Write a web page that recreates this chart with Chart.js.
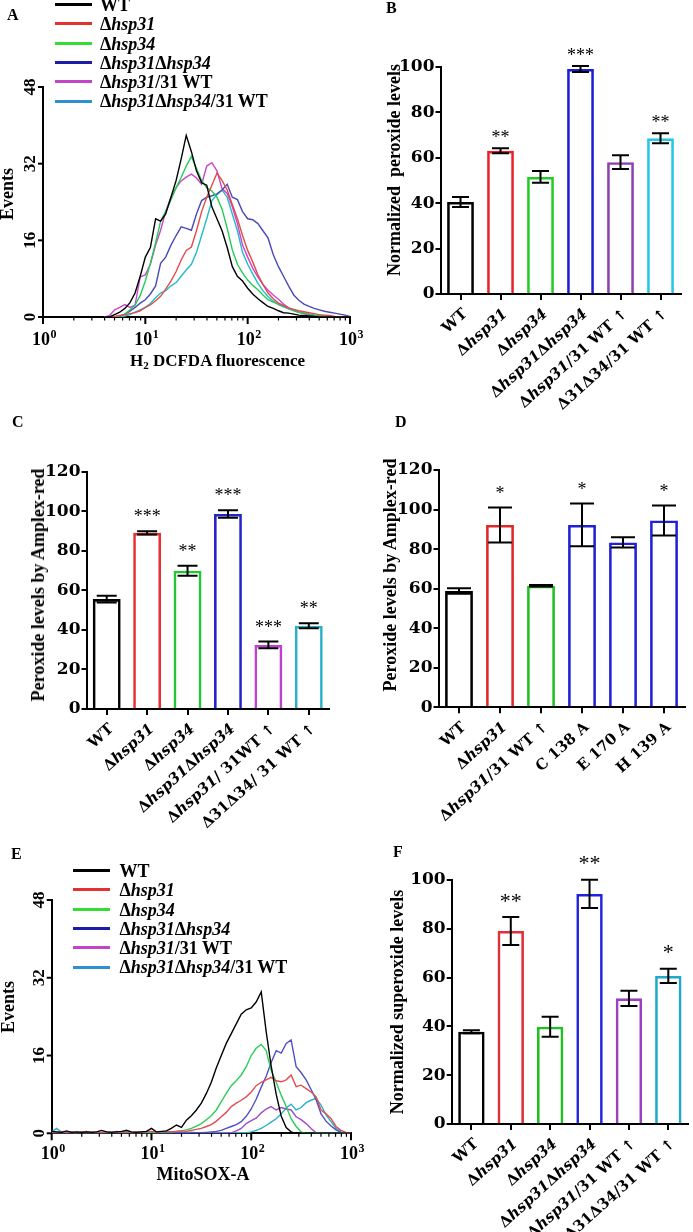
<!DOCTYPE html>
<html><head><meta charset="utf-8">
<script src="https://cdn.jsdelivr.net/npm/chart.js@4.4.1/dist/chart.umd.min.js"></script>
<style>
html,body{margin:0;padding:0;background:#fff;}
#page{position:relative;width:693px;height:1232px;overflow:hidden;background:#fff;}
canvas{position:absolute;left:0;top:0;}
.t{position:absolute;font-family:'Liberation Serif','Times New Roman',serif;font-weight:bold;color:#000;white-space:pre;line-height:1;}
.lg{position:absolute;height:3px;}
</style></head><body><div id="page">
<canvas id="cA" width="693" height="1232"></canvas>
<canvas id="cB" width="693" height="1232"></canvas>
<canvas id="cC" width="693" height="1232"></canvas>
<canvas id="cD" width="693" height="1232"></canvas>
<canvas id="cE" width="693" height="1232"></canvas>
<canvas id="cF" width="693" height="1232"></canvas>
</div>
<script>
// ---------------- DATA ----------------
const histLabels = ['WT','Δhsp31','Δhsp34','Δhsp31Δhsp34','Δhsp31/31 WT','Δhsp31Δhsp34/31 WT'];
const histYTicks = [0,16,32,48];
const logTicks = [1,10,100,1000];

// Panel A: H2DCFDA fluorescence channels and event counts
const aFluor = [3.98,4.47,5.01,5.62,6.31,7.08,7.94,8.91,10,11.2,12.6,14.1,15.8,17.8,20.0,22.4,25.1,28.2,31.6,35.5,39.8,44.7,50.1,56.2,63.1,70.8,79.4,89.1,100,112,126,141,158,178,200,224,251,282,316,355,398,447,501,562,631,708,794,891,1000];
const aWT     = [0,0,0.5,1.0,1.8,3.0,5.0,8.5,12.5,14.5,20.5,20.0,21.5,25.0,28.5,33.0,37.9,34.5,30.5,28.0,27.5,23.0,20.5,18.0,14.5,10.5,8.5,7.5,6.0,4.8,3.8,3.0,2.2,1.8,1.3,0.9,0.8,0.6,0.4,0.3,0.2,0.1,0,0,0,0,0,0,0];
const aHsp31  = [0,0,0.1,0.3,0.5,0.7,0.9,1.3,2.0,2.5,3.4,4.3,5.8,7.5,9.5,11.9,13.9,14.6,18.0,22.0,25.0,27.5,30.0,28.5,26.5,23.5,20.5,17.0,13.9,11.5,8.8,6.8,5.0,3.8,2.9,2.4,1.9,1.6,1.3,1.1,0.9,0.7,0.5,0.4,0.3,0.1,0,0,0];
const aHsp34  = [0,0,0,0.2,0.6,1.5,2.5,4.5,7.5,11.2,15.5,20.0,22.0,24.5,27.0,29.1,31.5,33.5,31.0,28.5,27.0,26.3,25.0,22.5,18.5,14.0,11.0,9.2,7.7,6.6,5.7,4.6,3.6,3.1,2.7,2.3,1.8,1.4,1.0,0.8,0.6,0.4,0.3,0.2,0.1,0,0,0,0];
const aDouble = [0,0,0,0.2,0.6,1.2,2.0,2.9,3.6,4.8,6.5,11.2,12.5,15.0,17.0,18.8,18.5,18.1,21.5,24.3,25.0,25.3,25.7,26.5,27.7,25.0,24.5,22.0,20.5,20.3,19.5,18.0,16.5,13.0,10.5,8.5,6.5,4.6,3.5,2.7,2.2,1.8,1.5,1.2,1.0,0.8,0.6,0.4,0.1];
const aRes31  = [0,0.3,1.5,2.0,2.6,2.0,2.5,8.4,8.8,11.0,15.0,18.1,22.0,25.0,27.0,28.4,29.2,29.8,29.0,27.7,31.5,32.2,30.5,26.8,25.8,23.0,19.5,15.0,12.5,10.2,8.3,6.8,5.6,4.6,3.7,2.7,1.9,1.4,1.0,0.7,0.5,0.3,0.1,0,0,0,0,0,0];
const aResDbl = [0,0,0,0,0.2,0.5,1.0,1.5,2.0,2.8,4.0,5.0,5.5,6.5,7.2,8.5,9.8,11.0,13.5,17.0,20.5,24.3,25.5,26.5,25.0,21.5,18.0,13.5,11.0,9.0,7.0,5.5,4.3,3.3,2.6,2.1,1.7,1.3,1.0,0.8,0.5,0.3,0.2,0,0,0,0,0,0];

// Panel E: MitoSOX fluorescence channels and event counts
const eFluor = [1,1.12,1.26,1.41,1.58,1.78,2.00,2.24,2.51,2.82,3.16,3.55,3.98,4.47,5.01,5.62,6.31,7.08,7.94,8.91,10,11.2,12.6,14.1,15.8,17.8,20.0,22.4,25.1,28.2,31.6,35.5,39.8,44.7,50.1,56.2,63.1,70.8,79.4,89.1,100,112,126,141,158,178,200,224,251,282,316,355,398,447,501,562,631,708,794,891,1000];
const eWT     = [0.4,0.3,0.2,0.5,0.2,0.3,0.2,0.3,0.2,0.3,0.6,0.3,0.2,0.3,0.4,0.6,0.3,0.2,0.3,0.4,1.0,0.3,0.4,0.5,1.0,1.7,1.2,2.7,3.6,4.8,6.2,8.2,10.5,13.5,16.0,18.5,20.5,22.5,24.5,25.4,25.8,27.0,29.1,21.0,14.0,8.0,3.5,1.2,0.3,0,0,0,0,0,0,0,0,0,0,0,0];
const eHsp31  = [0.3,0.2,0.4,0.2,0.3,0.2,0.3,0.4,0.2,0.3,0.2,0.3,0.2,0.4,0.2,0.3,0.2,0.3,0.2,0.3,0.4,0.2,0.3,0.4,0.3,0.4,0.5,0.4,0.6,0.8,1.0,1.4,1.8,2.5,3.4,4.3,5.5,6.2,6.8,7.5,8.5,9.8,10.5,11.0,11.5,10.8,10.6,11.0,12.0,9.6,9.9,9.2,8.5,7.5,4.8,4.0,3.0,1.4,0.6,0.2,0];
const eHsp34  = [0.1,0.2,0.1,0.2,0.1,0.1,0.2,0.1,0.2,0.1,0.1,0.2,0.1,0.3,0.1,0.2,0.1,0.2,0.3,0.1,0.2,0.1,0.2,0.3,0.3,0.4,0.5,0.7,1.0,1.5,2.0,2.8,3.6,4.8,6.5,8.2,9.8,10.8,12.0,13.7,16.0,17.5,18.3,17.0,13.0,10.5,7.8,5.5,3.0,1.4,0.3,0,0,0,0,0,0,0,0,0,0];
const eDouble = [0.1,0,0.1,0,0.1,0,0.1,0,0.1,0,0.1,0,0.2,0,0.1,0,0.1,0,0.1,0,0.1,0,0.1,0,0.1,0,0.1,0,0.1,0.1,0.1,0.2,0.3,0.4,0.6,1.0,1.4,1.8,2.4,3.5,5.0,7.0,9.5,11.7,14.5,17.0,16.5,18.5,19.2,13.7,12.5,11.0,9.0,6.9,4.0,2.5,1.5,0.7,0.2,0,0];
const eRes31  = [0,0,0,0,0,0,0,0,0,0,0,0,0,0,0,0,0,0,0,0,0,0,0,0,0,0,0,0,0,0,0,0,0,0,0,0,0.1,0.5,1.0,2.0,2.6,3.1,4.2,5.0,5.5,4.8,5.3,5.0,4.8,3.4,2.8,2.0,1.0,0.1,0,0,0,0,0,0,0];
const eResDbl = [0.3,1.0,0.2,0.1,0.2,0.1,0.2,0.1,0.2,0.1,0.1,0.2,0.1,0.2,0.3,0.7,0.2,0.1,0.2,0.1,0.2,0.1,0.2,0.1,0.1,0.2,0.1,0.1,0.2,0.1,0.1,0.1,0.1,0.1,0.1,0.1,0.1,0.1,0.1,0.1,0.3,0.6,1.0,1.6,2.3,3.0,4.0,5.2,6.0,4.8,5.3,6.3,6.8,7.2,5.8,3.8,2.4,1.0,0.3,0,0];

// Panel B: normalized peroxide levels (H2DCFDA)
const bCats   = ['WT','Δhsp31','Δhsp34','Δhsp31Δhsp34','Δhsp31/31 WT ↑','Δ31Δ34/31 WT ↑'];
const bValues = [40.5,63.0,51.5,99.0,58.0,68.5];
const bErrors = [2.2,1.1,2.6,1.3,3.0,2.2];
const bStars  = ['','**','','***','','**'];

// Panel C: peroxide levels by Amplex-red
const cCats   = ['WT','Δhsp31','Δhsp34','Δhsp31Δhsp34','Δhsp31/ 31WT ↑','Δ31Δ34/ 31 WT ↑'];
const cValues = [55.6,89.1,69.9,98.6,32.4,42.1];
const cErrors = [1.7,0.8,2.5,1.9,1.7,1.3];
const cStars  = ['','***','**','***','***','**'];

// Panel D: peroxide levels by Amplex-red, point mutants
const dCats   = ['WT','Δhsp31','Δhsp31/31 WT ↑','C 138 A','E 170 A','H 139 A'];
const dValues = [58.8,92.2,61.5,92.2,83.4,94.5];
const dErrors = [1.4,8.8,0.4,10.8,2.6,7.6];
const dStars  = ['','*','','*','','*'];

// Panel F: normalized superoxide levels
const fCats   = ['WT','Δhsp31','Δhsp34','Δhsp31Δhsp34','Δhsp31/31 WT ↑','Δ31Δ34/31 WT ↑'];
const fValues = [37.8,79.1,39.9,94.3,51.5,60.7];
const fErrors = [0.6,5.7,4.1,5.8,3.1,2.9];
const fStars  = ['','**','','**','','*'];

// ---------------- STYLE ----------------
const legendColors = ['#000000','#e53030','#33dd33','#1c1ca8','#c444c8','#2f90d0'];
const aColors = ['#000000','#e34a4a','#22cc55','#4a4ab8','#cc44cc','#22bcc8'];
const eColors = ['#000000','#e04e4e','#2ccc5a','#5050c4','#a04cc8','#2cb0c8'];
const bColors = ['#000000','#e8222a','#22cc22','#1c1cd8','#8e3fb0','#22c8e6'];
const cColors = ['#000000','#e83030','#22c833','#2424cc','#c040d0','#2ab0c8'];
const dColors = ['#000000','#e02828','#20c020','#2020d8','#2020d8','#2020d8'];
const fColors = ['#000000','#e03038','#20c020','#2020e0','#9a40c0','#20a8c8'];

const W = 693, H = 1232;
const ITAL = /(hsp\d+)/;
function segs(label){ return label.split(ITAL).filter(s => s.length).map(s => ({t:s, it:ITAL.test(s)})); }
function richHTML(label){ return label.replace(/(hsp\d+)/g, '<i>$1</i>'); }

function line(ctx,x1,y1,x2,y2){ ctx.beginPath(); ctx.moveTo(x1,y1); ctx.lineTo(x2,y2); ctx.stroke(); }

// --------------- HISTOGRAMS ---------------
function histChart(id, area, xs, series, colors) {
  const deco = {
    id: 'histDeco',
    afterDraw(chart) {
      const ctx = chart.ctx, sx = chart.scales.x, sy = chart.scales.y, ca = chart.chartArea;
      ctx.save();
      ctx.strokeStyle = '#000'; ctx.fillStyle = '#000';
      ctx.lineWidth = 2;
      histYTicks.forEach(v => { const py = sy.getPixelForValue(v); line(ctx, ca.left - 5, py, ca.left, py); });
      for (let d = 0; d < 3; d++) {
        for (let m = 1; m < 10; m++) {
          const px = sx.getPixelForValue(m * Math.pow(10, d));
          ctx.lineWidth = m === 1 ? 2 : 1.2;
          line(ctx, px, ca.bottom, px, ca.bottom + (m === 1 ? 7 : 3.5));
        }
      }
      ctx.lineWidth = 2;
      const pEnd = sx.getPixelForValue(1000); line(ctx, pEnd, ca.bottom, pEnd, ca.bottom + 7);
      logTicks.forEach(v => {
        const px = sx.getPixelForValue(v);
        const ex = String(Math.round(Math.log10(v)));
        ctx.font = 'bold 18px "Liberation Serif"';
        const w1 = ctx.measureText('10').width;
        ctx.font = 'bold 12px "Liberation Serif"';
        const w2 = ctx.measureText(ex).width;
        const x0 = px - (w1 + w2) / 2 + 1;
        const by = ca.bottom + area.xLabDy;
        ctx.textAlign = 'left'; ctx.textBaseline = 'alphabetic';
        ctx.font = 'bold 18px "Liberation Serif"';
        ctx.fillText('10', x0, by);
        ctx.font = 'bold 12px "Liberation Serif"';
        ctx.fillText(ex, x0 + w1 + 0.5, by - 7);
      });
      ctx.font = 'bold 17px "Liberation Serif"';
      histYTicks.forEach(v => {
        const py = sy.getPixelForValue(v);
        ctx.save();
        ctx.translate(ca.left - 8, py);
        ctx.rotate(-Math.PI / 2);
        ctx.textAlign = 'center'; ctx.textBaseline = 'alphabetic';
        ctx.fillText(String(v), 0, 0);
        ctx.restore();
      });
      ctx.restore();
    }
  };
  return new Chart(document.getElementById(id), {
    type: 'line',
    data: {
      datasets: series.map((s, k) => ({
        label: histLabels[k],
        data: xs.map((x, i) => ({x: x, y: s[i]})),
        borderColor: colors[k], borderWidth: 1.4, pointRadius: 0, tension: 0, fill: false
      }))
    },
    options: {
      responsive: false, animation: false, events: [],
      layout: { padding: { left: area.L, right: W - area.R, top: area.T, bottom: H - area.B } },
      plugins: { legend: {display: false}, tooltip: {enabled: false} },
      scales: {
        x: { type: 'logarithmic', min: 1, max: 1000, ticks: {display: false}, grid: {display: false},
             border: {display: true, color: '#000', width: 2}, afterFit: s => { s.height = 0; } },
        y: { type: 'linear', min: 0, max: 48, ticks: {display: false, stepSize: 16}, grid: {display: false},
             border: {display: true, color: '#000', width: 2}, afterFit: s => { s.width = 0; } }
      }
    },
    plugins: [deco]
  });
}

// --------------- BAR CHARTS ---------------
function barChart(id, area, cats, values, errors, stars, colors, yMax, st) {
  const deco = {
    id: 'barDeco',
    afterDatasetsDraw(chart) {
      const ctx = chart.ctx, sy = chart.scales.y;
      const meta = chart.getDatasetMeta(0);
      ctx.save();
      ctx.strokeStyle = '#000'; ctx.lineWidth = 2;
      meta.data.forEach((el, i) => {
        const x = el.x, v = values[i], e = errors[i];
        const yT = sy.getPixelForValue(v + e), yB = sy.getPixelForValue(v - e);
        const h = st.cap / 2;
        ctx.beginPath();
        ctx.moveTo(x, yT); ctx.lineTo(x, yB);
        ctx.moveTo(x - h, yT); ctx.lineTo(x + h, yT);
        ctx.moveTo(x - h, yB); ctx.lineTo(x + h, yB);
        ctx.stroke();
        if (stars[i]) {
          ctx.font = st.starSize + 'px "Liberation Serif"';
          ctx.fillStyle = '#000'; ctx.textAlign = 'center'; ctx.textBaseline = 'alphabetic';
          ctx.fillText(stars[i], x, yT - st.starGap + 0.48 * st.starSize);
        }
      });
      ctx.restore();
    },
    afterDraw(chart) {
      const ctx = chart.ctx, sx = chart.scales.x, ca = chart.chartArea;
      cats.forEach((lab, i) => {
        const px = sx.getPixelForTick(i);
        const parts = segs(lab);
        ctx.save();
        ctx.translate(px + st.labDx, ca.bottom + st.labDy);
        ctx.rotate(-st.labAngle * Math.PI / 180);
        let total = 0;
        parts.forEach(p => { ctx.font = (p.it ? 'italic ' : '') + 'bold ' + st.labSize + 'px "DejaVu Serif"'; p.w = ctx.measureText(p.t).width; total += p.w; });
        let x = -total;
        ctx.fillStyle = '#000'; ctx.textBaseline = 'middle'; ctx.textAlign = 'left';
        parts.forEach(p => { ctx.font = (p.it ? 'italic ' : '') + 'bold ' + st.labSize + 'px "DejaVu Serif"'; ctx.fillText(p.t, x, 0); x += p.w; });
        ctx.restore();
      });
    }
  };
  const yW = 50, xH = 6;
  return new Chart(document.getElementById(id), {
    type: 'bar',
    data: { labels: cats, datasets: [{ data: values, backgroundColor: 'rgba(255,255,255,0)', borderColor: colors,
            borderWidth: 2.6, borderSkipped: 'start', barPercentage: st.barPct, categoryPercentage: 1 }] },
    options: {
      responsive: false, animation: false, events: [],
      layout: { padding: { left: area.L - yW, right: W - area.R, top: area.T, bottom: H - area.B - xH } },
      plugins: { legend: {display: false}, tooltip: {enabled: false} },
      scales: {
        x: { type: 'category', offset: true, ticks: {display: false},
             grid: {display: true, offset: false, drawOnChartArea: false, drawTicks: true, tickLength: 6, color: '#000', lineWidth: 2},
             border: {display: true, color: '#000', width: 2}, afterFit: s => { s.height = xH; } },
        y: { min: 0, max: yMax, ticks: {stepSize: 20, color: '#000', padding: 1, font: {family: 'DejaVu Serif', weight: 'bold', size: 17}},
             grid: {drawOnChartArea: false, drawTicks: true, tickLength: 5, color: '#000', lineWidth: 2},
             border: {display: true, color: '#000', width: 2}, afterFit: s => { s.width = yW; } }
      }
    },
    plugins: [deco]
  });
}

const barStyle = (o) => Object.assign({cap: 17, starSize: 18, starGap: 14, labDx: 5, labDy: 18, labAngle: 42, labSize: 15, barPct: 0.67}, o);

histChart('cA', {L: 43, R: 350, T: 87, B: 317, xLabDy: 28}, aFluor, [aWT, aHsp31, aHsp34, aDouble, aRes31, aResDbl], aColors);
histChart('cE', {L: 51.7, R: 351, T: 900, B: 1133.3, xLabDy: 26}, eFluor, [eWT, eHsp31, eHsp34, eDouble, eRes31, eResDbl], eColors);
barChart('cB', {L: 440.5, R: 680.5, T: 66.7, B: 294}, bCats, bValues, bErrors, bStars, bColors, 100, barStyle({cap: 17, starGap: 14}));
barChart('cC', {L: 86.5, R: 329, T: 471.7, B: 709}, cCats, cValues, cErrors, cStars, cColors, 120, barStyle({cap: 20, starGap: 17.5, barPct: 0.69}));
barChart('cD', {L: 438.5, R: 684.5, T: 470, B: 707.3}, dCats, dValues, dErrors, dStars, dColors, 120, barStyle({cap: 24, starGap: 17.5, barPct: 0.68}));
barChart('cF', {L: 451.7, R: 688, T: 880, B: 1124}, fCats, fValues, fErrors, fStars, fColors, 100, barStyle({cap: 17, starGap: 20, starSize: 22}));

// --------------- HTML TEXT ---------------
const page = document.getElementById('page');
function txt(html, x, baseline, size, align) {
  const d = document.createElement('div');
  d.className = 't'; d.innerHTML = html;
  d.style.fontSize = size + 'px';
  d.style.left = x + 'px';
  d.style.top = (baseline - 0.8375 * size) + 'px';
  if (align === 'center') d.style.transform = 'translateX(-50%)';
  page.appendChild(d); return d;
}
function vtxt(html, cx, cy, size) {
  const d = document.createElement('div');
  d.className = 't'; d.innerHTML = html;
  d.style.fontSize = size + 'px';
  d.style.left = cx + 'px'; d.style.top = cy + 'px';
  d.style.transform = 'translate(-50%,-50%) rotate(-90deg)';
  page.appendChild(d); return d;
}
function legend(x1, x2, tx, y0, step) {
  histLabels.forEach((lab, i) => {
    const y = y0 + i * step;
    const l = document.createElement('div');
    l.className = 'lg'; l.style.left = x1 + 'px'; l.style.width = (x2 - x1) + 'px';
    l.style.top = (y - 1.5) + 'px'; l.style.background = legendColors[i];
    page.appendChild(l);
    txt(richHTML(lab), tx, y + 6.5, 18);
  });
}
txt('A', 7, 20.5, 16); txt('B', 386, 13.5, 16); txt('C', 12, 427, 16);
txt('D', 395, 427, 16); txt('E', 11, 859, 16); txt('F', 393, 857.5, 16);
legend(55, 92, 100, 4.5, 19.3);
legend(73, 110, 119.5, 870.5, 19.3);
txt('H<span style="font-size:0.65em;position:relative;top:0.25em">2</span> DCFDA fluorescence', 217.5, 366.7, 17, 'center');
txt('MitoSOX-A', 203, 1180, 18, 'center');
vtxt('Events', 7, 194, 18);
vtxt('Events', 8, 1007, 18);
vtxt('Normalized  peroxide levels', 394, 170, 18);
vtxt('Peroxide levels by Amplex-red', 37.5, 585, 18);
vtxt('Peroxide levels by Amplex-red', 390, 575, 18);
vtxt('Normalized superoxide levels', 397, 1002, 18);
</script>
</body></html>
